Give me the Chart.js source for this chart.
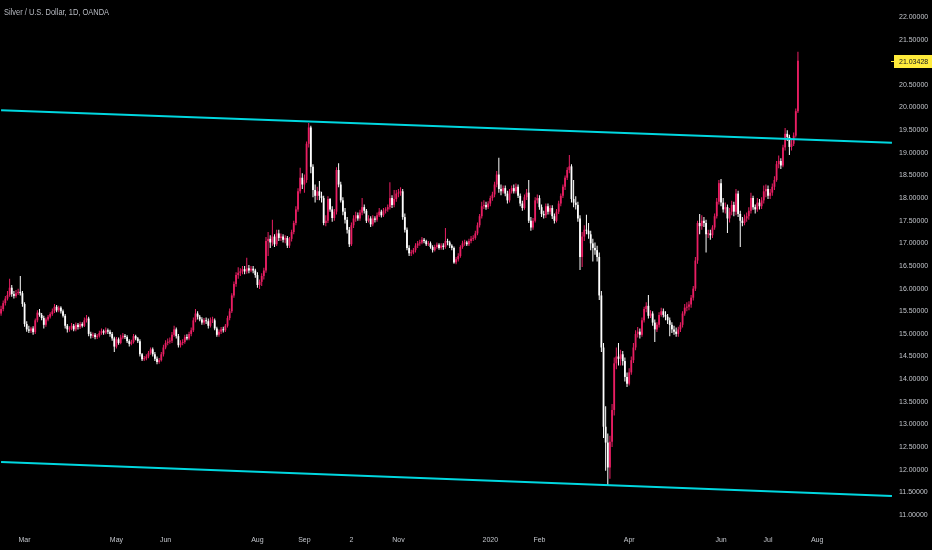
<!DOCTYPE html>
<html>
  <head>
    <meta charset="utf-8" />
    <title>Silver / U.S. Dollar, 1D, OANDA</title>
    <style>
        html, body {
            margin: 0;
            padding: 0;
            background: #000;
            overflow: hidden;
        }
        #wrap { position: relative; width: 932px; height: 550px; }
        #chart { display: block; }
        #title {
            position: absolute;
            left: 4px;
            top: 7px;
            font: 9px "Liberation Sans", sans-serif;
            color: #b8bbc2;
            white-space: nowrap;
            transform: scaleX(0.83);
            transform-origin: 0 0;
        }
    </style>
  </head>
  <body>
    <div id="wrap">
      <canvas id="chart" width="932" height="550"></canvas>
      <div id="title">Silver / U.S. Dollar, 1D, OANDA</div>
    </div>

    <script src="https://cdn.jsdelivr.net/npm/chart.js@4.4.1/dist/chart.umd.min.js"></script>
    <script>
        // daily candles, 14 Feb 2019 .. 21 Jul 2020 (one row per month)
        const opens = [
          15.45, 15.55, 15.68, 15.78, 15.86, 16.02, 15.88, 15.84, 15.90, 15.93, 15.90,
          15.66, 15.22, 15.10, 15.07, 15.12, 15.04, 15.30, 15.47, 15.42, 15.35, 15.20, 15.32, 15.38, 15.44, 15.50, 15.60, 15.52, 15.58, 15.50, 15.40, 15.18,
          15.10, 15.12, 15.18, 15.10, 15.20, 15.15, 15.22, 15.18, 15.30, 15.34, 15.00, 14.96, 14.98, 14.93, 14.96, 15.02, 15.06, 15.03, 15.08, 15.05, 15.00, 14.90,
          14.72, 14.88, 14.80, 14.92, 14.96, 14.93, 14.84, 14.78, 14.82, 14.95, 14.90, 14.84, 14.55, 14.44, 14.46, 14.50, 14.58, 14.66, 14.55, 14.45, 14.38, 14.42, 14.55,
          14.70, 14.80, 14.83, 14.85, 14.98, 15.10, 14.95, 14.75, 14.80, 14.82, 14.93, 14.90, 15.00, 15.08, 15.30, 15.45, 15.38, 15.32, 15.25, 15.30,
          15.28, 15.18, 15.30, 15.30, 15.12, 14.98, 15.05, 15.10, 15.08, 15.18, 15.35, 15.50, 15.85, 16.10, 16.30, 16.35, 16.38, 16.43, 16.38, 16.45, 16.40, 16.44, 16.40,
          16.30, 16.08, 16.15, 16.28, 16.40, 17.05, 17.10, 17.02, 17.15, 16.98, 17.22, 17.12, 17.15, 17.08, 17.12, 16.95, 17.10, 17.25, 17.45, 17.75, 18.15, 18.45,
          18.30, 18.40, 19.20, 19.56, 18.69, 18.18, 18.05, 18.15, 18.05, 18.00, 17.45, 17.50, 17.98, 17.75, 17.56, 17.70, 18.62, 18.30, 17.95, 17.70, 17.52,
          17.30, 16.98, 17.40, 17.55, 17.62, 17.55, 17.68, 17.80, 17.72, 17.50, 17.55, 17.42, 17.55, 17.52, 17.62, 17.70, 17.62, 17.72, 17.75, 17.80, 18.00, 17.85, 17.98,
          18.10, 18.12, 18.15, 17.58, 17.30, 16.90, 16.78, 16.80, 16.85, 16.95, 17.00, 17.02, 17.08, 17.05, 16.98, 17.00, 16.92, 16.85, 16.92, 16.97, 16.90,
          16.95, 16.92, 17.05, 17.02, 16.95, 16.90, 16.58, 16.65, 16.72, 16.92, 17.00, 17.02, 16.98, 17.05, 17.10, 17.12, 17.22, 17.40, 17.60, 17.82, 17.85, 17.80,
          17.88, 18.00, 18.08, 18.30, 18.52, 18.20, 18.15, 18.22, 18.10, 17.95, 18.15, 18.22, 18.15, 18.25, 18.05, 17.88, 17.78, 18.02, 18.12, 17.50, 17.35, 17.50, 17.95,
          18.00, 17.80, 17.65, 17.62, 17.82, 17.70, 17.78, 17.60, 17.50, 17.70, 17.88, 18.05, 18.25, 18.45, 18.62, 18.70, 17.98, 17.90, 17.85, 17.55,
          16.70, 17.15, 17.30, 17.28, 17.20, 17.00, 16.90, 16.85, 16.70, 15.85, 14.70, 12.95, 12.60, 12.05, 12.62, 13.32, 14.35, 14.50, 14.45, 14.55, 14.40, 14.05,
          13.90, 14.15, 14.42, 14.70, 15.00, 15.05, 14.98, 15.30, 15.55, 15.62, 15.40, 15.45, 15.25, 15.10, 15.20, 15.42, 15.50, 15.42, 15.38, 15.30, 15.20, 15.10,
          15.05, 15.00, 15.10, 15.20, 15.45, 15.58, 15.60, 15.65, 15.80, 16.00, 16.62, 17.45, 17.38, 17.50, 17.45, 17.20, 17.22, 17.18, 17.35, 17.60, 17.92,
          18.33, 17.90, 17.75, 17.80, 17.55, 17.70, 17.85, 17.70, 18.10, 17.65, 17.50, 17.45, 17.55, 17.60, 17.72, 18.00, 17.80, 17.75, 17.90, 17.82, 17.95, 18.15,
          18.20, 18.05, 18.12, 18.25, 18.40, 18.75, 18.82, 18.72, 19.12, 19.42, 19.35, 19.13, 19.20, 19.38, 19.92
        ];
        const highs = [
          15.62, 15.74, 15.84, 15.95, 16.22, 16.08, 15.95, 15.97, 16.00, 16.28, 15.95,
          15.70, 15.28, 15.18, 15.16, 15.17, 15.34, 15.52, 15.55, 15.46, 15.40, 15.36, 15.42, 15.48, 15.56, 15.66, 15.64, 15.62, 15.61, 15.54, 15.44, 15.22,
          15.17, 15.24, 15.22, 15.25, 15.24, 15.27, 15.26, 15.36, 15.42, 15.38, 15.05, 15.03, 15.02, 15.00, 15.07, 15.12, 15.10, 15.14, 15.12, 15.09, 15.04, 14.94,
          14.93, 14.92, 14.98, 15.02, 15.00, 14.97, 14.88, 14.87, 15.00, 14.98, 14.93, 14.88, 14.58, 14.51, 14.55, 14.62, 14.70, 14.70, 14.60, 14.50, 14.47, 14.60, 14.76,
          14.86, 14.90, 14.92, 15.04, 15.18, 15.14, 15.00, 14.86, 14.88, 14.98, 14.99, 15.05, 15.14, 15.36, 15.55, 15.50, 15.42, 15.37, 15.35, 15.36,
          15.34, 15.36, 15.38, 15.34, 15.16, 15.10, 15.15, 15.16, 15.22, 15.40, 15.56, 15.90, 16.16, 16.36, 16.47, 16.45, 16.50, 16.50, 16.68, 16.52, 16.50, 16.50, 16.44,
          16.36, 16.20, 16.34, 16.46, 17.14, 17.25, 17.18, 17.52, 17.20, 17.30, 17.30, 17.22, 17.20, 17.18, 17.16, 17.14, 17.30, 17.50, 17.82, 18.22, 18.67, 18.55,
          18.52, 19.25, 19.66, 19.60, 18.75, 18.30, 18.25, 18.38, 18.14, 18.05, 17.62, 18.04, 18.00, 17.82, 17.76, 18.68, 18.77, 18.36, 18.02, 17.78, 17.58,
          17.36, 17.46, 17.62, 17.70, 17.68, 17.74, 18.00, 17.86, 17.76, 17.62, 17.60, 17.62, 17.60, 17.68, 17.78, 17.74, 17.78, 17.80, 17.86, 18.35, 18.06, 18.18, 18.18,
          18.20, 18.24, 18.20, 17.66, 17.35, 16.96, 16.86, 16.90, 17.00, 17.05, 17.08, 17.14, 17.12, 17.08, 17.05, 17.04, 16.96, 16.97, 17.02, 17.00, 17.00,
          17.00, 17.34, 17.10, 17.06, 16.98, 16.93, 16.70, 16.78, 16.96, 17.06, 17.08, 17.06, 17.10, 17.16, 17.18, 17.28, 17.46, 17.65, 17.92, 17.95, 17.92, 17.93,
          18.05, 18.14, 18.36, 18.60, 18.89, 18.30, 18.28, 18.28, 18.16, 18.20, 18.28, 18.30, 18.32, 18.30, 18.10, 17.94, 18.08, 18.20, 18.40, 17.58, 17.56, 18.02, 18.08,
          18.06, 17.86, 17.72, 17.88, 17.88, 17.84, 17.84, 17.66, 17.76, 17.94, 18.10, 18.30, 18.50, 18.68, 18.95, 18.75, 18.40, 18.04, 17.92, 17.62,
          17.25, 17.40, 17.63, 17.45, 17.28, 17.10, 17.02, 16.95, 16.80, 15.95, 14.80, 13.40, 12.80, 12.75, 13.45, 14.48, 14.70, 14.80, 14.65, 14.62, 14.48, 14.15,
          14.24, 14.50, 14.80, 15.08, 15.15, 15.12, 15.36, 15.60, 15.70, 15.86, 15.52, 15.50, 15.32, 15.26, 15.48, 15.58, 15.56, 15.50, 15.44, 15.36, 15.26, 15.18,
          15.14, 15.16, 15.26, 15.50, 15.66, 15.70, 15.72, 15.86, 16.06, 16.70, 17.50, 17.65, 17.62, 17.58, 17.52, 17.30, 17.30, 17.40, 17.66, 18.00, 18.40,
          18.42, 18.00, 17.90, 17.86, 17.78, 17.94, 17.92, 18.20, 18.16, 17.72, 17.58, 17.64, 17.68, 17.80, 18.12, 18.05, 17.86, 18.00, 17.98, 18.02, 18.28, 18.30,
          18.28, 18.20, 18.32, 18.48, 18.82, 18.94, 18.88, 19.18, 19.55, 19.50, 19.40, 19.30, 19.45, 19.98, 21.23
        ];
        const lows = [
          15.40, 15.50, 15.63, 15.74, 15.82, 15.82, 15.78, 15.80, 15.86, 15.85, 15.60,
          15.16, 15.05, 15.02, 15.02, 14.98, 15.00, 15.26, 15.38, 15.30, 15.12, 15.16, 15.28, 15.34, 15.40, 15.46, 15.48, 15.48, 15.45, 15.36, 15.12, 15.03,
          15.05, 15.08, 15.06, 15.06, 15.10, 15.11, 15.14, 15.15, 15.25, 14.95, 14.90, 14.91, 14.88, 14.89, 14.92, 14.98, 14.98, 14.99, 15.00, 14.94, 14.85, 14.60,
          14.68, 14.76, 14.77, 14.88, 14.89, 14.80, 14.72, 14.75, 14.79, 14.86, 14.80, 14.50, 14.40, 14.40, 14.42, 14.46, 14.54, 14.50, 14.40, 14.33, 14.34, 14.39, 14.50,
          14.66, 14.75, 14.78, 14.80, 14.94, 14.90, 14.70, 14.70, 14.75, 14.78, 14.86, 14.86, 14.95, 15.04, 15.26, 15.32, 15.28, 15.20, 15.20, 15.22,
          15.12, 15.14, 15.24, 15.08, 14.94, 14.94, 15.00, 15.03, 15.04, 15.14, 15.30, 15.46, 15.80, 16.04, 16.22, 16.28, 16.32, 16.32, 16.33, 16.34, 16.36, 16.34, 16.24,
          16.02, 15.99, 16.06, 16.20, 16.35, 16.72, 16.90, 16.95, 16.92, 16.94, 17.05, 17.05, 17.02, 17.00, 16.90, 16.90, 17.04, 17.20, 17.40, 17.70, 18.10, 18.20,
          18.12, 18.34, 19.12, 18.55, 18.02, 17.90, 17.96, 17.95, 17.90, 17.40, 17.38, 17.45, 17.70, 17.48, 17.50, 17.64, 18.24, 17.90, 17.62, 17.44, 17.22,
          16.92, 16.94, 17.34, 17.48, 17.50, 17.50, 17.62, 17.66, 17.45, 17.46, 17.36, 17.38, 17.46, 17.48, 17.58, 17.57, 17.58, 17.66, 17.70, 17.75, 17.78, 17.80, 17.92,
          18.02, 18.05, 17.52, 17.24, 16.85, 16.72, 16.72, 16.76, 16.80, 16.90, 16.95, 16.98, 17.00, 16.94, 16.94, 16.88, 16.80, 16.82, 16.88, 16.86, 16.86,
          16.86, 16.88, 16.96, 16.90, 16.85, 16.55, 16.54, 16.60, 16.68, 16.88, 16.95, 16.94, 16.94, 17.00, 17.05, 17.08, 17.18, 17.35, 17.55, 17.76, 17.74, 17.76,
          17.82, 17.94, 18.02, 18.24, 18.12, 18.06, 18.10, 18.04, 17.88, 17.90, 18.10, 18.10, 18.10, 18.00, 17.82, 17.72, 17.74, 17.96, 17.45, 17.28, 17.30, 17.46, 17.88,
          17.74, 17.58, 17.55, 17.56, 17.64, 17.64, 17.54, 17.44, 17.46, 17.65, 17.82, 18.00, 18.18, 18.40, 18.55, 17.90, 17.80, 17.75, 17.48, 16.41,
          16.48, 17.05, 17.20, 17.10, 16.85, 16.60, 16.75, 16.60, 15.75, 14.60, 12.70, 11.98, 11.66, 11.80, 12.50, 13.20, 14.22, 14.30, 14.30, 14.30, 13.95, 13.83,
          13.86, 14.10, 14.36, 14.64, 14.92, 14.90, 14.94, 15.25, 15.48, 15.34, 15.35, 15.18, 14.82, 15.04, 15.14, 15.38, 15.36, 15.30, 15.22, 14.95, 15.02, 14.98,
          14.94, 14.94, 15.04, 15.14, 15.40, 15.50, 15.52, 15.58, 15.74, 15.95, 16.55, 17.20, 17.30, 17.36, 16.80, 17.12, 17.08, 17.12, 17.30, 17.55, 17.86,
          17.82, 17.68, 17.66, 17.23, 17.46, 17.62, 17.60, 17.62, 17.58, 16.92, 17.38, 17.40, 17.48, 17.52, 17.66, 17.74, 17.66, 17.70, 17.75, 17.76, 17.88, 18.02,
          17.98, 17.98, 18.05, 18.18, 18.36, 18.66, 18.64, 18.68, 19.05, 19.26, 18.95, 19.05, 19.15, 19.34, 19.88
        ];
        const closes = [
          15.55, 15.68, 15.78, 15.86, 16.02, 15.88, 15.84, 15.90, 15.93, 15.90, 15.66,
          15.22, 15.10, 15.07, 15.12, 15.04, 15.30, 15.47, 15.42, 15.35, 15.20, 15.32, 15.38, 15.44, 15.50, 15.60, 15.52, 15.58, 15.50, 15.40, 15.18, 15.10,
          15.12, 15.18, 15.10, 15.20, 15.15, 15.22, 15.18, 15.30, 15.34, 15.00, 14.96, 14.98, 14.93, 14.96, 15.02, 15.06, 15.03, 15.08, 15.05, 15.00, 14.90, 14.72,
          14.88, 14.80, 14.92, 14.96, 14.93, 14.84, 14.78, 14.82, 14.95, 14.90, 14.84, 14.55, 14.44, 14.46, 14.50, 14.58, 14.66, 14.55, 14.45, 14.38, 14.42, 14.55, 14.70,
          14.80, 14.83, 14.85, 14.98, 15.10, 14.95, 14.75, 14.80, 14.82, 14.93, 14.90, 15.00, 15.08, 15.30, 15.45, 15.38, 15.32, 15.25, 15.30, 15.28,
          15.18, 15.30, 15.30, 15.12, 14.98, 15.05, 15.10, 15.08, 15.18, 15.35, 15.50, 15.85, 16.10, 16.30, 16.35, 16.38, 16.43, 16.38, 16.45, 16.40, 16.44, 16.40, 16.30,
          16.08, 16.15, 16.28, 16.40, 17.05, 17.10, 17.02, 17.15, 16.98, 17.22, 17.12, 17.15, 17.08, 17.12, 16.95, 17.10, 17.25, 17.45, 17.75, 18.15, 18.45, 18.30,
          18.40, 19.20, 19.56, 18.69, 18.18, 18.05, 18.15, 18.05, 18.00, 17.45, 17.50, 17.98, 17.75, 17.56, 17.70, 18.62, 18.30, 17.95, 17.70, 17.52, 17.30,
          16.98, 17.40, 17.55, 17.62, 17.55, 17.68, 17.80, 17.72, 17.50, 17.55, 17.42, 17.55, 17.52, 17.62, 17.70, 17.62, 17.72, 17.75, 17.80, 18.00, 17.85, 17.98, 18.10,
          18.12, 18.15, 17.58, 17.30, 16.90, 16.78, 16.80, 16.85, 16.95, 17.00, 17.02, 17.08, 17.05, 16.98, 17.00, 16.92, 16.85, 16.92, 16.97, 16.90, 16.95,
          16.92, 17.05, 17.02, 16.95, 16.90, 16.58, 16.65, 16.72, 16.92, 17.00, 17.02, 16.98, 17.05, 17.10, 17.12, 17.22, 17.40, 17.60, 17.82, 17.85, 17.80, 17.88,
          18.00, 18.08, 18.30, 18.52, 18.20, 18.15, 18.22, 18.10, 17.95, 18.15, 18.22, 18.15, 18.25, 18.05, 17.88, 17.78, 18.02, 18.12, 17.50, 17.35, 17.50, 17.95, 18.00,
          17.80, 17.65, 17.62, 17.82, 17.70, 17.78, 17.60, 17.50, 17.70, 17.88, 18.05, 18.25, 18.45, 18.62, 18.70, 17.98, 17.90, 17.85, 17.55, 16.70,
          17.15, 17.30, 17.28, 17.20, 17.00, 16.90, 16.85, 16.70, 15.85, 14.70, 12.95, 12.60, 12.05, 12.62, 13.32, 14.35, 14.50, 14.45, 14.55, 14.40, 14.05, 13.90,
          14.15, 14.42, 14.70, 15.00, 15.05, 14.98, 15.30, 15.55, 15.62, 15.40, 15.45, 15.25, 15.10, 15.20, 15.42, 15.50, 15.42, 15.38, 15.30, 15.20, 15.10, 15.05,
          15.00, 15.10, 15.20, 15.45, 15.58, 15.60, 15.65, 15.80, 16.00, 16.62, 17.45, 17.38, 17.50, 17.45, 17.20, 17.22, 17.18, 17.35, 17.60, 17.92, 18.33,
          17.90, 17.75, 17.80, 17.55, 17.70, 17.85, 17.70, 18.10, 17.65, 17.50, 17.45, 17.55, 17.60, 17.72, 18.00, 17.80, 17.75, 17.90, 17.82, 17.95, 18.15, 18.20,
          18.05, 18.12, 18.25, 18.40, 18.75, 18.82, 18.72, 19.12, 19.42, 19.35, 19.13, 19.20, 19.38, 19.92, 21.03428
        ];

        // month labels on the time axis and the bar slot each one sits on
        const tickLabels = ['Mar', 'May', 'Jun', 'Aug', 'Sep', '2', 'Nov', '2020', 'Feb', 'Apr', 'Jun', 'Jul', 'Aug'];
        const tickIndex = [11, 54, 77, 120, 142, 164, 186, 229, 252, 294, 337, 359, 382];
        const priceTicks = [11.0, 11.5, 12.0, 12.5, 13.0, 13.5, 14.0, 14.5, 15.0, 15.5, 16.0, 16.5,
                            17.0, 17.5, 18.0, 18.5, 19.0, 19.5, 20.0, 20.5, 21.0, 21.5, 22.0];

        // channel lines: price at the left edge and at the right edge
        const upperLine = [19.94, 19.22];
        const lowerLine = [12.17, 11.42];
        const lastPrice = 21.03428;

        const SLOTS = 418;   // bars + empty space to the right
        const UP = '#e91e63';
        const DOWN = '#ffffff';
        const TEXT = '#c3c6cc';
        const FONT = '"Liberation Sans", sans-serif';

        const labels = new Array(SLOTS).fill('');
        tickIndex.forEach((idx, k) => { labels[idx] = tickLabels[k]; });

        const barColors = closes.map((c, i) => c >= opens[i] ? UP : DOWN);

        const edgeSeries = (pair) => {
          const arr = new Array(SLOTS).fill(null);
          arr[0] = pair[0];
          arr[SLOTS - 1] = pair[1];
          return arr;
        };

        const noPadding = (scale) => {
          scale.paddingLeft = 0;
          scale.paddingRight = 0;
          scale.paddingTop = 0;
          scale.paddingBottom = 0;
        };

        const lastPriceTag = {
          id: 'lastPriceTag',
          afterDraw(chart) {
            const { ctx, chartArea } = chart;
            const py = Math.round(chart.scales.y.getPixelForValue(lastPrice));
            ctx.save();
            ctx.fillStyle = '#ffeb3b';
            ctx.fillRect(chartArea.right + 1, py - 6, chart.width - chartArea.right - 1, 13);
            ctx.fillRect(chartArea.right - 2, py, 3, 1);
            ctx.fillStyle = '#131722';
            ctx.font = '7px ' + FONT;
            ctx.textBaseline = 'middle';
            ctx.fillText(lastPrice.toFixed(5), chartArea.right + 6, py + 1);
            ctx.restore();
          }
        };

        const chart = new Chart('chart', {
          type: 'bar',
          data: {
            labels: labels,
            datasets: [
              {
                type: 'line',
                data: edgeSeries(upperLine),
                borderColor: '#00d8e0',
                borderWidth: 2,
                pointRadius: 0,
                spanGaps: true,
                order: 0
              },
              {
                type: 'line',
                data: edgeSeries(lowerLine),
                borderColor: '#00d8e0',
                borderWidth: 2,
                pointRadius: 0,
                spanGaps: true,
                order: 0
              },
              {
                data: closes.map((c, i) => [opens[i], c]),
                backgroundColor: barColors,
                barThickness: 1.8,
                minBarLength: 1,
                grouped: false,
                inflateAmount: 0,
                order: 1
              },
              {
                data: lows.map((l, i) => [l, highs[i]]),
                backgroundColor: barColors,
                barThickness: 1,
                grouped: false,
                inflateAmount: 0,
                order: 2
              }
            ]
          },
          options: {
            responsive: false,
            animation: false,
            events: [],
            devicePixelRatio: 1,
            layout: { padding: 0 },
            plugins: {
              legend: { display: false },
              tooltip: { enabled: false }
            },
            scales: {
              x: {
                grid: { display: false, drawTicks: false },
                border: { display: false },
                ticks: {
                  autoSkip: false,
                  maxRotation: 0,
                  padding: 6,
                  color: TEXT,
                  font: { family: FONT, size: 7 }
                },
                afterFit: (scale) => { scale.height = 20; noPadding(scale); }
              },
              y: {
                position: 'right',
                min: 10.6687,
                max: 22.3755,
                grid: { display: false, drawTicks: false },
                border: { display: false },
                afterBuildTicks: (scale) => {
                  scale.ticks = priceTicks.map(v => ({ value: v }));
                },
                ticks: {
                  padding: 6,
                  color: TEXT,
                  font: { family: FONT, size: 7 },
                  callback: (v) => Number(v).toFixed(5)
                },
                afterFit: (scale) => { scale.width = 39; noPadding(scale); }
              }
            }
          },
          plugins: [lastPriceTag]
        });
    </script>
  </body>
</html>
